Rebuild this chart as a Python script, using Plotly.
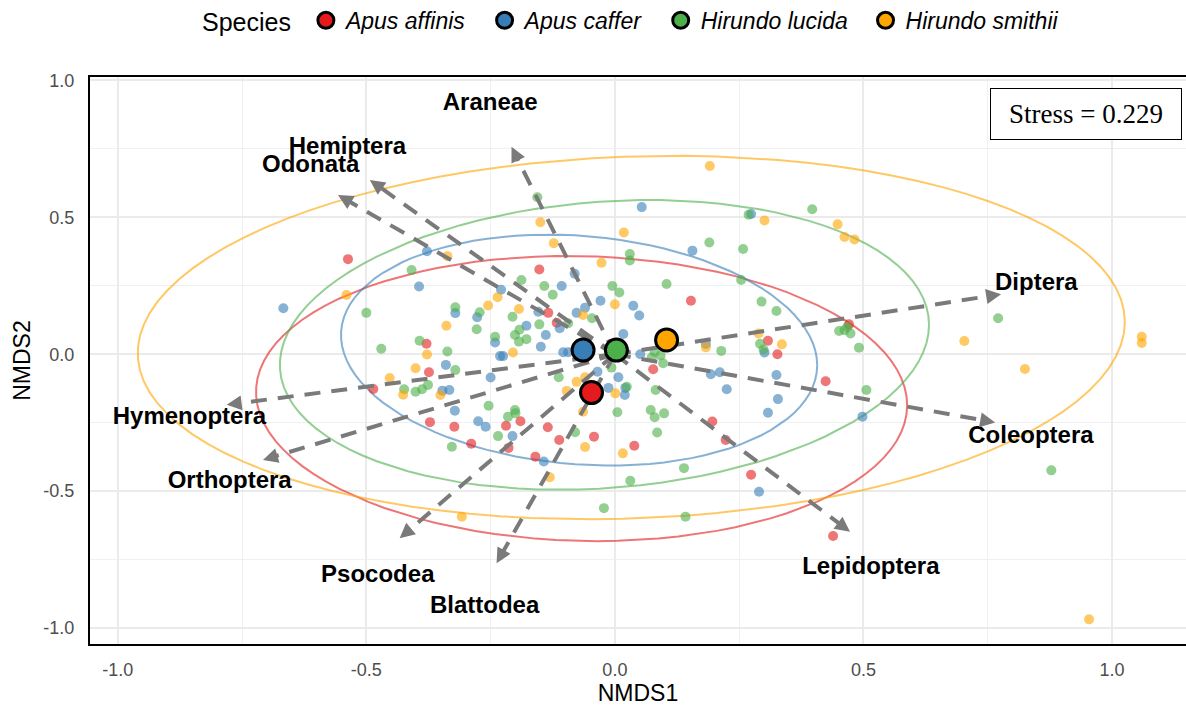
import numpy as np
import plotly.graph_objects as go

# ---------------- data ----------------
species = ["Apus affinis", "Apus caffer", "Hirundo lucida", "Hirundo smithii"]
colors = ["#E41A1C", "#377EB8", "#4DAF4A", "#FFA500"]

affinis_x = [-0.537, -0.379, -0.152, 0.153, -0.134, -0.117, 0.077, -0.374, -0.486, -0.190, -0.372, -0.323, -0.219, -0.135,
             -0.112, -0.042, -0.289, -0.214, 0.039, -0.160, 0.308, 0.327, 0.471, 0.424, 0.196, 0.223, 0.274, 0.439]
affinis_y = [0.347, 0.038, 0.309, 0.195, 0.151, 0.115, -0.055, -0.066, -0.127, -0.245, -0.248, -0.265, -0.261, -0.267,
             -0.313, -0.301, -0.327, -0.342, -0.334, -0.374, 0.049, 0.000, 0.109, -0.099, -0.246, -0.313, -0.440, -0.664]

caffer_x = [-0.378, -0.394, -0.667, -0.321, 0.054, 0.156, -0.081, -0.107, -0.029, 0.037, 0.049, -0.229, -0.277, -0.154,
            -0.178, -0.111, -0.077, -0.060, -0.241, -0.139, -0.149, -0.231, -0.225, -0.104, -0.094, -0.035, 0.007, -0.013,
            0.021, 0.020, 0.051, -0.340, -0.347, -0.333, -0.250, -0.322, -0.275, -0.260, -0.206, -0.143, 0.274, 0.017,
            0.183, 0.301, 0.193, 0.211, 0.325, 0.225, 0.328, 0.308, 0.498, 0.290]
caffer_y = [0.376, 0.247, 0.168, 0.150, 0.537, 0.378, 0.294, 0.249, 0.195, 0.177, 0.141, 0.235, 0.135, 0.155,
            0.104, 0.095, 0.151, 0.170, 0.043, 0.070, 0.027, -0.007, -0.007, 0.007, 0.007, -0.064, -0.084, -0.123,
            -0.123, -0.149, 0.000, -0.039, -0.133, -0.131, -0.085, -0.206, -0.245, -0.265, -0.299, -0.392, 0.512, 0.074,
            0.037, 0.006, -0.073, -0.066, -0.076, -0.128, -0.164, -0.214, -0.228, -0.502]

lucida_x = [-0.409, -0.500, -0.321, -0.470, -0.393, -0.337, -0.156, 0.030, 0.030, 0.104, -0.188, -0.142, -0.125, -0.005,
            0.009, -0.272, -0.278, -0.206, -0.152, -0.094, -0.046, -0.241, -0.201, -0.192, -0.193, -0.178, -0.007, 0.024,
            0.074, 0.080, 0.092, 0.097, 0.082, -0.321, -0.424, -0.401, -0.388, -0.376, 0.005, 0.072, 0.080, 0.099,
            -0.254, -0.215, -0.200, -0.201, -0.235, -0.080, 0.085, -0.328, 0.139, 0.031, -0.113, 0.397, 0.269, 0.190,
            0.258, 0.254, 0.295, 0.325, 0.214, 0.292, 0.299, 0.451, 0.462, 0.474, 0.468, 0.491, 0.506, 0.771, 0.878,
            -0.022, 0.142]
lucida_y = [0.307, 0.151, 0.171, 0.020, 0.049, 0.010, 0.573, 0.366, 0.342, 0.256, 0.271, 0.249, 0.217, 0.249,
            0.225, 0.153, 0.091, 0.137, 0.109, 0.113, 0.131, 0.064, 0.070, 0.089, 0.046, 0.055, -0.049, -0.119,
            -0.012, 0.009, -0.005, -0.033, -0.131, -0.058, -0.128, -0.137, -0.128, -0.112, -0.212, -0.204, -0.230, -0.216,
            -0.188, -0.228, -0.216, -0.204, -0.299, -0.285, -0.286, -0.338, -0.416, -0.462, -0.084, 0.529, 0.509, 0.408,
            0.384, 0.271, 0.192, 0.158, 0.012, 0.038, 0.017, 0.085, 0.088, 0.076, 0.100, 0.024, -0.131, 0.131, -0.424,
            -0.562, -0.593]

smithii_x = [-0.337, -0.540, -0.339, -0.378, -0.150, -0.123, 0.018, -0.027, 0.000, -0.236, -0.255, -0.193, -0.064, -0.205,
             -0.060, -0.077, -0.097, 0.001, -0.401, -0.453, -0.426, -0.351, -0.064, -0.060, 0.016, -0.131, -0.308, 0.191,
             0.301, 0.448, 0.462, 0.482, 0.183, 0.289, 0.336, 0.703, 1.060, 1.060, 0.825, 0.954]
smithii_y = [0.358, 0.216, 0.104, -0.001, 0.482, 0.405, 0.444, 0.334, 0.182, 0.208, 0.178, 0.165, 0.143, 0.006,
             -0.084, -0.101, -0.134, -0.143, -0.051, -0.087, -0.148, -0.149, -0.210, -0.339, -0.362, -0.449, -0.593, 0.687,
             0.488, 0.474, 0.428, 0.419, 0.025, 0.076, 0.036, 0.048, 0.064, 0.041, -0.054, -0.968]

points_x = [affinis_x, caffer_x, lucida_x, smithii_x]
points_y = [affinis_y, caffer_y, lucida_y, smithii_y]

centroid_x = [-0.047, -0.064, 0.003, 0.104]
centroid_y = [-0.140, 0.015, 0.015, 0.052]

# ellipse parameters: centre, conjugate half-axis (ax, ay) and vertical half-axis b
ell_cx = [-0.067, -0.072, -0.021, 0.033]
ell_cy = [-0.162, 0.015, 0.034, 0.061]
ell_ax = [0.655, 0.479, 0.653, 0.993]
ell_ay = [-0.024, -0.055, 0.073, 0.057]
ell_b = [0.520, 0.418, 0.524, 0.661]

taxa = ["Araneae", "Hemiptera", "Odonata", "Diptera", "Coleoptera", "Lepidoptera",
        "Blattodea", "Psocodea", "Orthoptera", "Hymenoptera"]
arrow_x = [-0.208, -0.493, -0.557, 0.777, 0.765, 0.473, -0.238, -0.433, -0.708, -0.781]
arrow_y = [0.757, 0.636, 0.581, 0.219, -0.249, -0.648, -0.763, -0.672, -0.386, -0.185]
label_x = [-0.251, -0.538, -0.612, 0.848, 0.837, 0.515, -0.262, -0.477, -0.775, -0.856]
label_y = [0.912, 0.754, 0.688, 0.255, -0.301, -0.781, -0.922, -0.810, -0.465, -0.234]

tick_vals = [-1.0, -0.5, 0.0, 0.5, 1.0]
tick_text = ["-1.0", "-0.5", "0.0", "0.5", "1.0"]

stress_text = "Stress = 0.229"

# ---------------- figure ----------------
fig = go.Figure()

t = np.linspace(0, 2 * np.pi, 100)
for i, sp in enumerate(species):
    ex = ell_cx[i] + ell_ax[i] * np.cos(t)
    ey = ell_cy[i] + ell_ay[i] * np.cos(t) + ell_b[i] * np.sin(t)
    fig.add_trace(go.Scatter(x=ex, y=ey, mode="lines", line=dict(color=colors[i], width=2),
                             opacity=0.6, showlegend=False, hoverinfo="skip"))

for i, sp in enumerate(species):
    fig.add_trace(go.Scatter(x=points_x[i], y=points_y[i], mode="markers",
                             marker=dict(color=colors[i], size=10, opacity=0.6, line=dict(width=0)),
                             showlegend=False, name=sp))

# dashed arrow shafts
sx, sy = [], []
for ax_, ay_ in zip(arrow_x, arrow_y):
    sx += [0, ax_ * 0.97, None]
    sy += [0, ay_ * 0.97, None]
fig.add_trace(go.Scatter(x=sx, y=sy, mode="lines",
                         line=dict(color="#7A7A7A", width=4, dash="16px,11px"),
                         showlegend=False, hoverinfo="skip"))

for i, sp in enumerate(species):
    fig.add_trace(go.Scatter(x=[centroid_x[i]], y=[centroid_y[i]], mode="markers",
                             marker=dict(color=colors[i], size=22, line=dict(color="black", width=3)),
                             name="<i>" + sp + "</i>&nbsp;&nbsp;", showlegend=True))

fig.add_trace(go.Scatter(x=label_x, y=label_y, mode="text", text=taxa,
                         textfont=dict(family="Liberation Sans, Arial", size=24, color="black", weight="bold"),
                         showlegend=False, hoverinfo="skip"))

for ax_, ay_ in zip(arrow_x, arrow_y):
    fig.add_annotation(x=ax_, y=ay_, ax=ax_ * 0.96, ay=ay_ * 0.96, xref="x", yref="y",
                       axref="x", ayref="y", text="", showarrow=True, arrowhead=2,
                       arrowsize=1.0, arrowwidth=3, arrowcolor="#7A7A7A")

fig.add_annotation(x=0.909, y=0.935, xref="paper", yref="paper", text=stress_text,
                   showarrow=False, font=dict(family="Liberation Serif, Times New Roman", size=27, color="black"),
                   bordercolor="black", borderwidth=1, bgcolor="white", width=188, height=48,
                   xanchor="center", yanchor="middle")

axis_common = dict(
    showgrid=True, gridcolor="#EBEBEB", gridwidth=1.5, zeroline=False,
    showline=True, linecolor="black", linewidth=2,
    ticks="outside", tickcolor="rgba(0,0,0,0)",
    tickfont=dict(family="Liberation Sans, Arial", size=18, color="#4D4D4D"),
    tickmode="array", tickvals=tick_vals, ticktext=tick_text,
    minor=dict(dtick=0.25, tick0=0, showgrid=True, gridcolor="#F0F0F0", gridwidth=1),
)

fig.update_layout(
    width=1186, height=706,
    margin=dict(l=90, r=0, t=77, b=62, autoexpand=False),
    plot_bgcolor="white", paper_bgcolor="white",
    font=dict(family="Liberation Sans, Arial", color="black"),
    xaxis=dict(range=[-1.056, 1.149], mirror=True, ticklen=8,
               title=dict(text="NMDS1", font=dict(size=23, color="black"), standoff=4),
               **axis_common),
    yaxis=dict(range=[-1.058, 1.012], ticklen=10,
               title=dict(text="NMDS2", font=dict(size=23, color="black"), standoff=6),
               **axis_common),
    legend=dict(orientation="h", x=0.5, xanchor="center", y=1.10, yanchor="middle",
                title=dict(text="Species&nbsp;", font=dict(size=25)),
                font=dict(size=23, family="Liberation Sans, Arial"),
                bgcolor="rgba(0,0,0,0)", itemsizing="trace"),
)

fig.write_html("out.html")
